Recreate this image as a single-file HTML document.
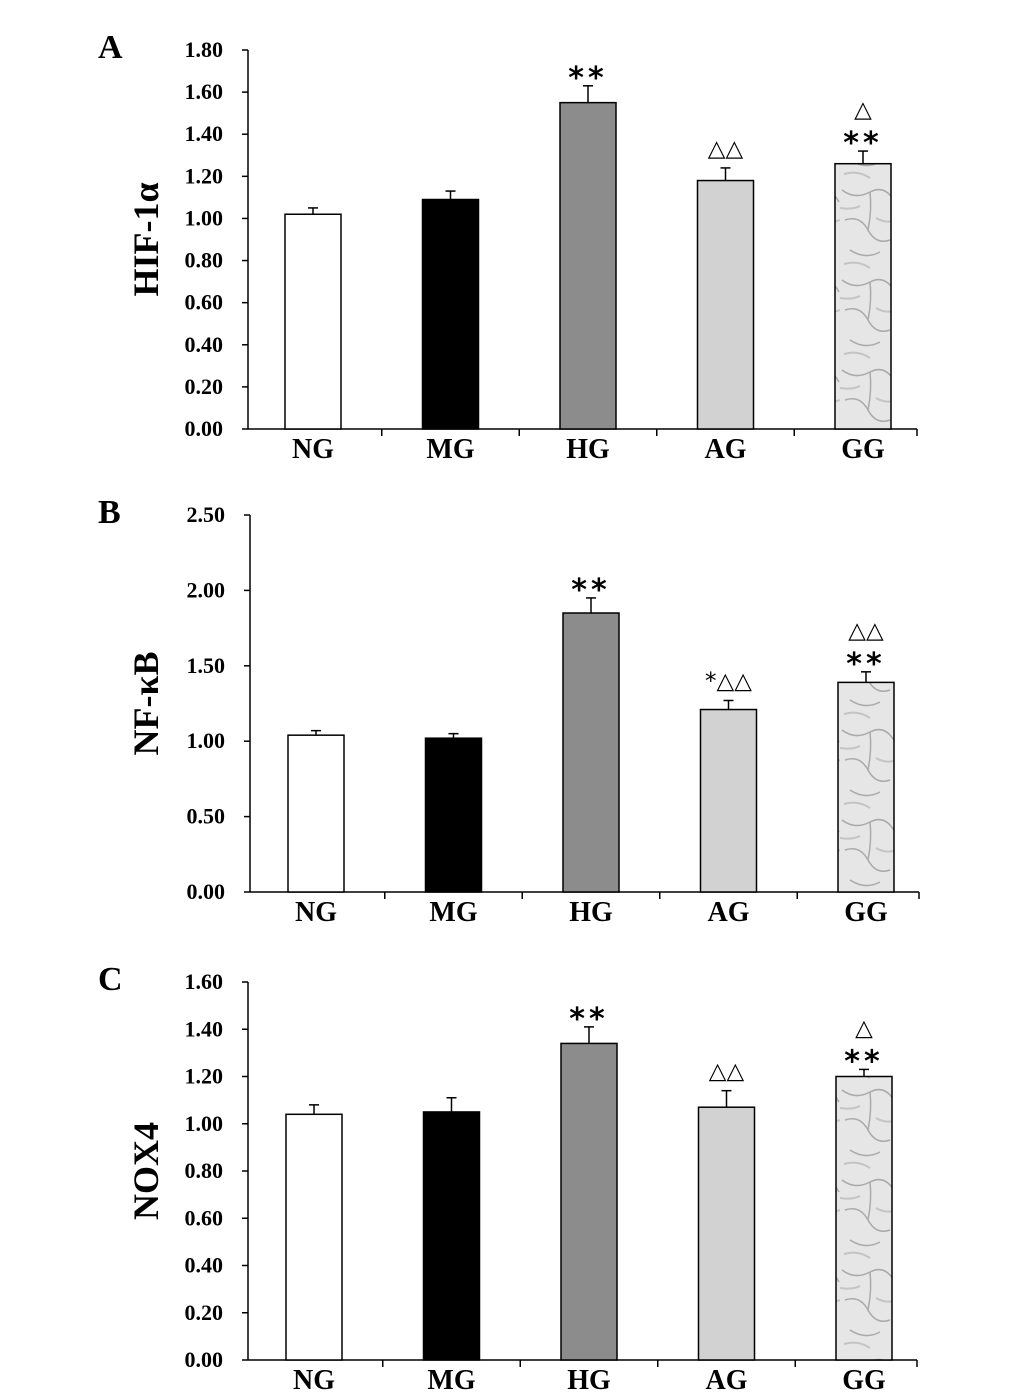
<!DOCTYPE html>
<html><head><meta charset="utf-8"><style>
html,body{margin:0;padding:0;background:#fff;}
svg{display:block;font-family:"Liberation Serif",serif;}
</style></head><body>
<svg id="chart" width="1033" height="1397" viewBox="0 0 1033 1397" xmlns="http://www.w3.org/2000/svg">
<defs>
<pattern id="marble" width="56" height="90" patternUnits="userSpaceOnUse">
<rect width="56" height="90" fill="#e6e6e6"/>
<path d="M2 10 Q15 20 30 12 T55 22 M5 40 Q20 35 28 50 T50 60 M10 70 Q25 80 40 72 M30 12 Q32 30 28 50" stroke="#aaa" stroke-width="1.5" fill="none"/>
<path d="M0 28 Q12 30 20 26 M36 38 Q46 44 56 40 M4 84 Q18 80 30 88" stroke="#c4c4c4" stroke-width="2" fill="none"/>
</pattern>
</defs>
<g id="plots"></g>
</svg>
<script>
const categories = ["NG","MG","HG","AG","GG"];
const valuesA = [1.02, 1.09, 1.55, 1.18, 1.26];
const errorsA = [0.03, 0.04, 0.08, 0.06, 0.06];
const ticksA = ["0.00","0.20","0.40","0.60","0.80","1.00","1.20","1.40","1.60","1.80"];
const valuesB = [1.04, 1.02, 1.85, 1.21, 1.39];
const errorsB = [0.03, 0.03, 0.10, 0.06, 0.07];
const ticksB = ["0.00","0.50","1.00","1.50","2.00","2.50"];
const valuesC = [1.04, 1.05, 1.34, 1.07, 1.20];
const errorsC = [0.04, 0.06, 0.07, 0.07, 0.03];
const ticksC = ["0.00","0.20","0.40","0.60","0.80","1.00","1.20","1.40","1.60"];
const marksA = [[],[],["**"],["△△"],["**","△"]];
const marksB = [[],[],["**"],["*△△"],["**","△△"]];
const marksC = [[],[],["**"],["△△"],["**","△"]];
const fills = ["#ffffff","#000000","#8c8c8c","#d2d2d2","url(#marble)"];

const NS="http://www.w3.org/2000/svg";
const root=document.getElementById('plots');
function mk(tag,attrs,parent,text){const e=document.createElementNS(NS,tag);for(const k in attrs)e.setAttribute(k,attrs[k]);if(text!==undefined)e.textContent=text;(parent||root).appendChild(e);return e;}

function panel(p){
  const g=mk('g',{});
  
  
  const max=parseFloat(p.ticks[p.ticks.length-1]);
  const y=v=>p.bottom-(v/max)*(p.bottom-p.top);
  const x=i=>p.c0+p.step*i;
  const t=mk('text',{x:98,y:p.top+8,'font-size':34,'font-weight':'bold'},g,p.letter);
  
  
  const ya=mk('line',{x1:p.x0,y1:p.top,x2:p.x0,y2:p.bottom,stroke:'#000','stroke-width':1.5},g);
  
  
  const xa=mk('line',{x1:p.x0,y1:p.bottom,x2:p.x1,y2:p.bottom,stroke:'#000','stroke-width':1.5},g);
  
  
  p.ticks.forEach(s=>{const v=parseFloat(s);const yy=y(v);
    mk('line',{x1:p.x0-6,y1:yy,x2:p.x0,y2:yy,stroke:'#000','stroke-width':1.5},g);
    const tl=mk('text',{x:p.x0-25,y:yy+7,'font-size':22,'font-weight':'bold','text-anchor':'end'},g,s);
    
    
  });
  for(let i=0;i<5;i++){const tx=i<4?x(i)+p.step/2:p.x1;mk('line',{x1:tx,y1:p.bottom,x2:tx,y2:p.bottom+7,stroke:'#000','stroke-width':1.5},g);}
  categories.forEach((c,i)=>{
    const top=y(p.values[i]);
    const b=mk('rect',{x:x(i)-28,y:top,width:56,height:p.bottom-top,fill:fills[i],stroke:'#000','stroke-width':1.5},g);
    
    
    const et=y(p.values[i]+p.errors[i]);
    mk('line',{x1:x(i),y1:top,x2:x(i),y2:et,stroke:'#000','stroke-width':1.5},g);
    mk('line',{x1:x(i)-5,y1:et,x2:x(i)+5,y2:et,stroke:'#000','stroke-width':1.5},g);
    let base=et;
    p.marks[i].forEach((m,k)=>{
      const isStar=m.indexOf('△')<0;
      let mt;
      if(isStar){
        mt=mk('text',{x:x(i),y:base+2,'font-size':30,'font-weight':'bold','text-anchor':'middle','font-family':'"DejaVu Sans",sans-serif','letter-spacing':4},g,m);
        base-=22;
      } else {
        mt=mk('text',{x:x(i),y:base-12,'font-size':23,'text-anchor':'middle','font-family':'"DejaVu Sans",sans-serif'},g,m);
        base-=24;
      }
      
      
    });
    const cl=mk('text',{x:x(i),y:p.bottom+29,'font-size':28,'font-weight':'bold','text-anchor':'middle'},g,c);
    
    
  });
  const cy=(p.top+p.bottom)/2;
  const yt=mk('text',{x:158,y:cy,'font-size':36,'font-weight':'bold','text-anchor':'middle',transform:'rotate(-90 158 '+cy+')'},g,p.title);
  
  
}
panel({letter:'A',title:'HIF-1α',x0:248,x1:917,c0:313,step:137.5,top:50,bottom:429,ticks:ticksA,values:valuesA,errors:errorsA,marks:marksA});
panel({letter:'B',title:'NF-κB',x0:250,x1:919,c0:316,step:137.5,top:515,bottom:892,ticks:ticksB,values:valuesB,errors:errorsB,marks:marksB});
panel({letter:'C',title:'NOX4',x0:248,x1:917,c0:314,step:137.5,top:982,bottom:1360,ticks:ticksC,values:valuesC,errors:errorsC,marks:marksC});
</script>
</body></html>
